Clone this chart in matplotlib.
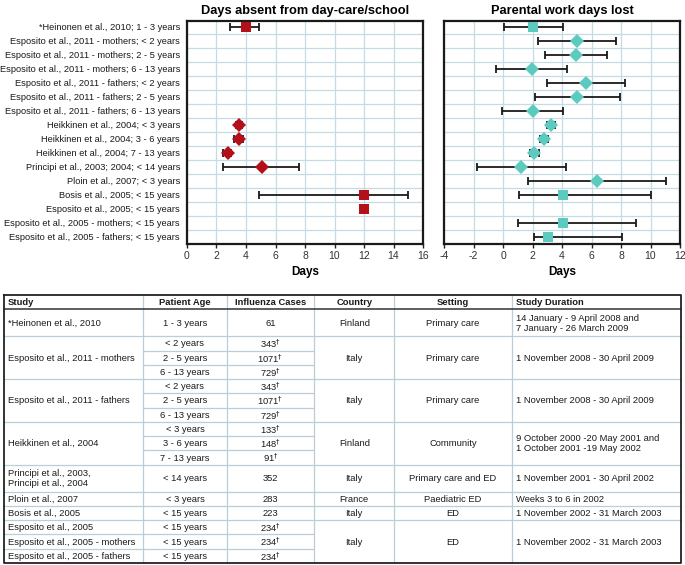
import numpy as np
import matplotlib
matplotlib.use("Agg")
import matplotlib.pyplot as plt

FAM = ['Liberation Sans', 'DejaVu Sans']
plt.rcParams['font.family'] = FAM
plt.rcParams['axes.unicode_minus'] = False

# ---------------- forest plot data ----------------
row_labels = [
    "*Heinonen et al., 2010; 1 - 3 years",
    "Esposito et al., 2011 - mothers; < 2 years",
    "Esposito et al., 2011 - mothers; 2 - 5 years",
    "Esposito et al., 2011 - mothers; 6 - 13 years",
    "Esposito et al., 2011 - fathers; < 2 years",
    "Esposito et al., 2011 - fathers; 2 - 5 years",
    "Esposito et al., 2011 - fathers; 6 - 13 years",
    "Heikkinen et al., 2004; < 3 years",
    "Heikkinen et al., 2004; 3 - 6 years",
    "Heikkinen et al., 2004; 7 - 13 years",
    "Principi et al., 2003; 2004; < 14 years",
    "Ploin et al., 2007; < 3 years",
    "Bosis et al., 2005; < 15 years",
    "Esposito et al., 2005; < 15 years",
    "Esposito et al., 2005 - mothers; < 15 years",
    "Esposito et al., 2005 - fathers; < 15 years",
]
markers = ["s", "D", "D", "D", "D", "D", "D", "D", "D", "D", "D", "D", "s", "s", "s", "s"]

N = None
absent_mean = [4.0, N, N, N, N, N, N, 3.5, 3.5, 2.8, 5.1, N, 12.0, 12.0, N, N]
absent_lo   = [2.9, N, N, N, N, N, N, 3.3, 3.2, 2.45, 2.45, N, 4.9, N, N, N]
absent_hi   = [4.9, N, N, N, N, N, N, 3.7, 3.8, 3.0, 7.6, N, 15.0, N, N, N]

work_mean = [2.05, 5.0, 4.95, 1.95, 5.65, 5.05, 2.0, 3.25, 2.75, 2.1, 1.25, 6.35, 4.05, N, 4.05, 3.05]
work_lo   = [0.05, 2.4, 2.85, -0.45, 3.0, 2.15, -0.05, 3.0, 2.5, 1.8, -1.75, 1.7, 1.1, N, 1.0, 2.1]
work_hi   = [4.1, 7.65, 7.05, 4.35, 8.3, 7.95, 4.1, 3.55, 3.05, 2.45, 4.3, 11.05, 10.05, N, 9.05, 8.1]

# ---------------- table data ----------------
table_headers = ["Study", "Patient Age", "Influenza Cases", "Country", "Setting", "Study Duration"]
studies = ["*Heinonen et al., 2010", "Esposito et al., 2011 - mothers", "Esposito et al., 2011 - fathers",
           "Heikkinen et al., 2004", "Principi et al., 2003,\nPrincipi et al., 2004", "Ploin et al., 2007",
           "Bosis et al., 2005", "Esposito et al., 2005", "Esposito et al., 2005 - mothers",
           "Esposito et al., 2005 - fathers"]
ages = [["1 - 3 years"], ["< 2 years", "2 - 5 years", "6 - 13 years"],
        ["< 2 years", "2 - 5 years", "6 - 13 years"],
        ["< 3 years", "3 - 6 years", "7 - 13 years"], ["< 14 years"], ["< 3 years"],
        ["< 15 years"], ["< 15 years"], ["< 15 years"], ["< 15 years"]]
D = r"$^{\dagger}$"
cases = [["61"], ["343" + D, "1071" + D, "729" + D], ["343" + D, "1071" + D, "729" + D],
         ["133" + D, "148" + D, "91" + D], ["352"], ["283"], ["223"],
         ["234" + D], ["234" + D], ["234" + D]]
group_studies = [[0], [1], [2], [3], [4], [5], [6], [7, 8, 9]]
countries = ["Finland", "Italy", "Italy", "Finland", "Italy", "France", "Italy", "Italy"]
settings = ["Primary care", "Primary care", "Primary care", "Community", "Primary care and ED",
            "Paediatric ED", "ED", "ED"]
durations = ["14 January - 9 April 2008 and\n7 January - 26 March 2009",
             "1 November 2008 - 30 April 2009", "1 November 2008 - 30 April 2009",
             "9 October 2000 -20 May 2001 and\n1 October 2001 -19 May 2002",
             "1 November 2001 - 30 April 2002", "Weeks 3 to 6 in 2002",
             "1 November 2002 - 31 March 2003", "1 November 2002 - 31 March 2003"]

RED = "#b31019"
TEAL = "#5ccabf"
GRID = "#c6dbe4"

W, H = 685, 565
fig = plt.figure(figsize=(W / 100, H / 100), dpi=100)
renderer = fig.canvas.get_renderer()


def fit_size(text, target_px, weight="normal", base=10.0):
    t = fig.text(0, 0, text, fontsize=base, fontweight=weight)
    w = t.get_window_extent(renderer).width
    t.remove()
    return base * target_px / w


LBL_FS = fit_size("Esposito et al., 2005 - mothers; < 15 years", 175)
TAB_FS = fit_size("Esposito et al., 2005 - mothers", 128)
TITLE_FS = fit_size("Days absent from day-care/school", 207, weight="bold")


def fx(px):
    return px / W


def fy(py):
    return 1 - py / H


ax1 = fig.add_axes([fx(187), fy(244), fx(423) - fx(187), fy(21) - fy(244)])
ax2 = fig.add_axes([fx(444), fy(244), fx(680) - fx(444), fy(21) - fy(244)])

nrows = len(row_labels)
ypos = np.arange(nrows)


def arr(v):
    return np.array([np.nan if x is None else x for x in v], dtype=float)


for ax, mean, lo, hi, col, xlim, title in [
    (ax1, absent_mean, absent_lo, absent_hi, RED, (0, 16), "Days absent from day-care/school"),
    (ax2, work_mean, work_lo, work_hi, TEAL, (-4, 12), "Parental work days lost"),
]:
    m = arr(mean)
    l = arr(lo)
    h = arr(hi)
    has_err = ~np.isnan(l)
    xe = np.vstack([m - l, h - m])
    ax.errorbar(m[has_err], ypos[has_err], xerr=xe[:, has_err], fmt="none",
                ecolor="#1a1a1a", elinewidth=1.3, capsize=2.6, capthick=1.3, zorder=3)
    for i in range(nrows):
        if not np.isnan(m[i]):
            ms = 6.5 if markers[i] == "s" else 7
            ax.plot(m[i], ypos[i], marker=markers[i], color=col, markersize=ms,
                    markeredgewidth=0, linestyle="none", zorder=4)
    ax.set_xlim(*xlim)
    ax.set_ylim(15.5, -0.4)
    ax.set_xticks(np.arange(xlim[0], xlim[1] + 1, 2))
    ax.set_yticks(ypos)
    ax.set_yticks(np.arange(nrows - 1) + 0.5, minor=True)
    ax.tick_params(axis="y", which="both", length=0, pad=5)
    ax.tick_params(axis="x", length=3, width=1, colors="#222222", labelsize=LBL_FS + 0.8, pad=2,
                   labelcolor="#333333")
    ax.grid(True, axis="x", which="major", color=GRID, lw=0.9, zorder=0)
    ax.grid(True, axis="y", which="minor", color=GRID, lw=0.9, zorder=0)
    ax.set_axisbelow(True)
    for s in ax.spines.values():
        s.set_linewidth(1.6)
        s.set_color("#1a1a1a")
    ax.set_xlabel("Days", fontsize=TITLE_FS * 0.92, fontweight="bold", labelpad=4)
    ax.set_title(title, fontsize=TITLE_FS, fontweight="bold", pad=5)

ax1.set_yticklabels(row_labels, fontsize=LBL_FS, color="#1a1a1a")
ax2.set_yticklabels([])

# ---------------- table ----------------
tax = fig.add_axes([0, 0, 1, 1])
tax.set_xlim(0, W)
tax.set_ylim(H, 0)
tax.axis("off")

col_x = [4, 143.3, 226.7, 314.3, 394.3, 511.7, 680.7]
top, bottom = 295, 563
study_h = []
for si, a in enumerate(ages):
    if si in (0, 4):
        study_h.append([1.9])
    else:
        study_h.append([1.0] * len(a))
total_units = 1.0 + sum(sum(x) for x in study_h)
u = (bottom - top) / total_units

TXT = dict(fontsize=TAB_FS, color="#1a1a1a", va="center")
LINE = "#b9ced8"

# header
hy0, hy1 = top, top + u
for j, hname in enumerate(table_headers):
    if j in (0, 5):
        tax.text(col_x[j] + 4, (hy0 + hy1) / 2 + 0.5, hname, ha="left", fontweight="bold", **TXT)
    else:
        tax.text((col_x[j] + col_x[j + 1]) / 2, (hy0 + hy1) / 2 + 0.5, hname, ha="center",
                 fontweight="bold", **TXT)

# rows
y = hy1
study_spans = []
for si in range(len(studies)):
    ys = y
    for k, hh in enumerate(study_h[si]):
        r0, r1 = y, y + hh * u
        cy = (r0 + r1) / 2 + 0.5
        tax.text((col_x[1] + col_x[2]) / 2, cy, ages[si][k], ha="center", **TXT)
        tax.text((col_x[2] + col_x[3]) / 2, cy, cases[si][k], ha="center", **TXT)
        if k < len(study_h[si]) - 1:
            tax.plot([col_x[1], col_x[3]], [r1, r1], color=LINE, lw=0.9)
        y = r1
    study_spans.append((ys, y))
    tax.text(col_x[0] + 4, (ys + y) / 2 + 0.5, studies[si], ha="left", linespacing=1.1, **TXT)

for gi, grp in enumerate(group_studies):
    g0 = study_spans[grp[0]][0]
    g1 = study_spans[grp[-1]][1]
    cy = (g0 + g1) / 2 + 0.5
    tax.text((col_x[3] + col_x[4]) / 2, cy, countries[gi], ha="center", **TXT)
    tax.text((col_x[4] + col_x[5]) / 2, cy, settings[gi], ha="center", **TXT)
    tax.text(col_x[5] + 4, cy, durations[gi], ha="left", linespacing=1.1, **TXT)
    for s in grp[:-1]:
        yy = study_spans[s][1]
        tax.plot([col_x[0], col_x[3]], [yy, yy], color=LINE, lw=0.9)
    if gi < len(group_studies) - 1:
        tax.plot([col_x[0], col_x[6]], [g1, g1], color=LINE, lw=0.9)

for xv in col_x[1:-1]:
    tax.plot([xv, xv], [top, bottom], color=LINE, lw=0.9)
tax.plot([col_x[0], col_x[6]], [hy1, hy1], color="#333333", lw=1.1)
tax.plot([col_x[0], col_x[6], col_x[6], col_x[0], col_x[0]], [top, top, bottom, bottom, top],
         color="#222222", lw=1.3)

fig.savefig("out.png", dpi=100)
